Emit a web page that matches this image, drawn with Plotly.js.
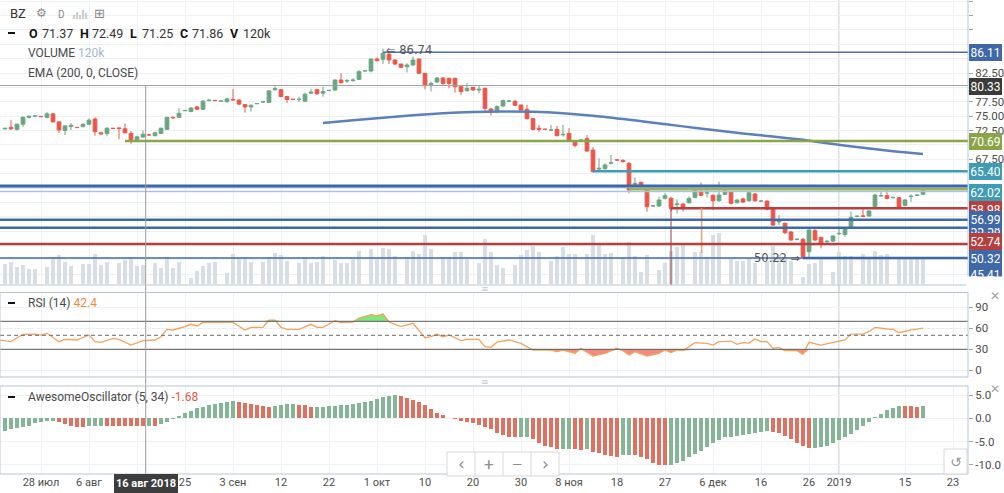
<!DOCTYPE html>
<html><head><meta charset="utf-8">
<script src="https://cdn.plot.ly/plotly-3.0.1.min.js"></script>
<style>html,body{margin:0;padding:0;background:#fff;}#chart{width:1004px;height:493px;}</style>
</head><body><div id="chart"></div>
<script>
// ---------------- data ----------------
const tickIdx  = [6,14,22,30,38,46,54,62,70,78,86,94,102,110,118,126,134,139,150,158];
const tickText = ['28 июл','6 авг','16 авг','25','3 сен','12','22','1 окт','10','20','30','8 ноя','18','27','6 дек','16','26','2019','15','23'];

const openP = [
72.8,73.05,72.7,73.6,74.8,75.0,74.95,74.8,75.4,74.0,
72.5,73.2,73.05,73.2,73.6,74.5,72.1,72.0,72.9,72.95,
72.8,72.0,70.95,71.37,71.75,71.6,72.0,72.7,74.8,74.8,
75.95,75.8,76.6,76.2,77.7,77.75,77.6,77.5,77.9,77.8,
77.0,76.6,77.15,77.45,77.4,79.6,79.6,78.4,77.95,77.9,
77.6,79.0,79.6,79.0,79.45,79.55,81.29,81.1,81.2,81.4,
82.85,82.85,84.94,84.9,85.8,84.77,84.07,83.6,83.9,84.94,
82.45,80.5,80.94,81.64,81.58,81.58,80.13,79.43,80.0,79.55,
79.84,76.24,75.78,76.77,77.6,77.58,76.94,76.18,74.56,72.9,
72.75,72.55,72.7,71.75,72.0,70.56,70.8,71.08,69.1,65.8,
65.9,66.8,67.4,67.3,66.79,62.85,63.48,62.27,59.35,59.37,
60.7,60.7,59.6,59.71,59.94,60.87,61.8,61.6,61.22,60.29,
61.4,61.8,59.94,60.6,60.29,61.45,60.2,60.23,58.96,56.6,
56.35,54.84,53.55,53.56,51.42,55.07,53.91,53.15,53.27,54.55,
54.43,55.77,57.55,57.65,57.62,59.25,61.1,61.16,60.8,60.81,
59.48,61.0,61.2,61.4];
const highP = [
73.0,74.3,73.7,75.0,75.1,75.2,75.0,75.7,75.5,74.1,
73.4,73.8,73.1,73.7,74.6,74.8,72.3,73.1,72.95,73.0,
73.7,72.4,71.6,72.49,71.8,72.3,73.0,74.9,74.9,76.4,
76.1,76.6,76.8,77.8,78.0,77.8,77.7,78.2,79.7,77.9,
77.1,77.0,77.3,77.7,79.5,80.2,79.7,78.5,78.0,78.4,
79.1,79.7,79.8,80.1,79.55,81.4,82.45,81.5,81.6,83.0,
83.0,85.0,85.2,86.74,85.9,84.9,84.1,84.2,85.35,85.0,
82.5,81.0,81.8,81.8,81.7,81.7,80.2,80.7,80.1,80.25,
80.0,76.4,76.9,77.9,77.8,77.8,77.0,76.94,74.6,73.46,
72.8,73.46,73.3,73.46,72.9,70.8,71.0,71.7,69.6,67.66,
66.8,68.24,67.5,67.5,67.0,64.35,63.6,62.4,59.5,60.99,
61.6,61.0,60.5,59.9,61.0,62.73,63.43,63.02,61.4,63.6,
62.2,62.0,60.6,60.8,62.0,61.6,60.4,60.3,59.0,57.8,
56.5,55.0,53.8,53.8,55.3,55.4,54.0,53.4,54.3,55.5,
55.6,58.38,57.7,58.8,58.6,61.5,61.98,62.15,61.0,60.9,
60.6,61.4,61.4,62.1];
const lowP = [
72.6,72.6,72.5,73.1,74.6,74.8,74.85,74.6,73.9,72.1,
71.7,72.6,72.95,73.0,73.4,71.6,71.8,71.5,72.85,71.0,
72.0,70.2,70.7,71.25,71.65,71.5,71.9,72.6,74.5,74.7,
75.9,75.7,76.1,76.1,77.6,77.6,77.55,77.4,77.7,77.0,
75.6,75.8,77.1,77.3,77.3,79.4,78.3,77.3,77.85,77.5,
77.5,78.9,78.7,78.4,79.4,79.4,80.7,80.8,81.0,81.3,
82.8,82.6,84.5,84.1,84.07,83.9,83.4,82.6,83.8,82.3,
79.67,79.3,80.8,80.2,79.84,79.1,78.7,79.3,79.4,78.97,
75.78,75.1,75.5,76.6,77.5,76.8,75.9,74.4,72.5,72.3,
72.6,72.4,71.5,71.43,70.7,69.6,70.7,68.8,65.2,65.34,
65.6,66.6,67.2,66.9,61.57,62.7,62.9,58.38,59.2,59.2,
60.5,58.5,58.09,58.38,59.8,60.7,61.1,60.87,58.67,60.1,
61.3,59.6,59.8,59.9,60.1,60.1,60.1,58.6,55.9,56.06,
54.5,53.3,53.4,50.22,50.5,53.3,52.0,53.0,53.1,54.3,
54.0,55.6,57.4,57.4,57.5,59.1,61.0,60.5,60.7,59.0,
59.3,60.1,61.1,61.3];
const closeP = [
72.9,72.8,73.6,74.8,75.0,75.05,74.9,75.4,74.0,72.6,
73.3,73.4,73.0,73.6,74.3,72.3,71.9,72.9,72.85,72.85,
72.1,70.9,71.4,71.86,71.7,72.1,72.9,74.8,74.7,75.5,
76.0,76.4,76.2,77.6,77.8,77.7,77.65,78.0,77.8,77.1,
76.6,76.9,77.2,77.5,79.4,79.8,78.4,77.9,77.9,77.95,
78.8,79.2,78.9,79.3,79.5,81.29,80.83,81.2,81.3,82.74,
82.9,84.94,84.65,85.93,84.77,84.07,83.5,83.9,84.77,82.45,
80.42,80.7,81.64,80.7,80.7,80.13,79.26,79.84,79.55,79.7,
76.36,75.78,76.65,77.7,77.65,76.88,76.07,74.56,72.7,72.7,
72.7,72.6,71.6,71.85,70.85,69.92,70.85,68.93,65.34,65.95,
66.5,66.9,67.35,67.1,62.15,63.31,63.02,59.25,59.4,60.41,
61.16,58.96,59.75,59.13,60.7,62.03,61.22,61.7,60.29,61.28,
61.98,59.83,60.41,60.06,61.68,60.29,60.25,58.79,56.06,56.7,
54.72,53.45,53.6,50.55,55.19,53.45,52.87,53.25,54.15,54.6,
55.42,57.39,57.62,57.55,58.5,61.28,61.2,60.7,60.87,59.13,
60.41,61.1,61.3,62.02];
const volumeK = [
126,140,109,120,96,96,3,105,172,183,
140,113,3,126,126,189,120,140,3,130,
151,168,113,120,3,130,103,168,99,140,
3,40,84,113,130,140,3,71,189,162,
168,140,3,140,172,197,183,147,3,134,
172,134,140,176,3,151,134,134,158,210,
3,221,158,227,221,176,3,168,210,189,
309,221,3,168,168,202,202,158,3,132,
282,202,120,101,3,120,183,214,241,202,
3,145,176,233,189,189,3,189,309,252,
189,195,3,164,265,176,76,183,3,88,
134,210,231,246,3,202,202,168,309,319,
3,156,147,143,162,130,3,145,241,181,
172,147,3,46,126,134,162,3,76,200,
176,176,3,189,172,208,183,187,3,156,
156,172,172,172];
const aoVal = [
-2.66,-2.37,-2.15,-1.79,-1.58,-1.08,-0.72,-0.55,-0.50,-0.72,
-1.22,-1.58,-1.79,-1.85,-1.70,-1.62,-1.58,-1.60,-1.61,-1.62,
-1.63,-1.64,-1.66,-1.68,-1.62,-1.64,-1.22,-0.72,-0.22,0.50,
1.08,1.65,2.22,2.50,2.80,3.08,3.30,3.50,3.65,3.50,
3.30,3.08,2.87,2.65,2.50,2.65,2.94,3.08,3.10,2.94,
2.80,2.50,2.52,2.54,2.56,2.65,2.80,2.94,3.08,3.22,
3.44,3.65,4.08,4.50,4.86,5.00,4.79,4.36,3.93,3.50,
2.94,1.94,1.08,0.72,0.07,-0.22,-0.50,-0.72,-0.93,-1.43,
-1.79,-2.37,-3.08,-3.59,-3.95,-3.97,-3.95,-3.93,-4.50,-5.24,
-5.88,-6.10,-6.60,-6.58,-6.56,-6.60,-6.80,-6.60,-7.17,-7.50,
-7.90,-8.00,-8.25,-7.95,-7.90,-7.92,-8.25,-8.80,-9.70,-10.00,
-10.04,-10.02,-9.70,-9.10,-8.40,-7.75,-6.96,-6.10,-5.24,-4.66,
-4.09,-3.95,-3.80,-3.59,-3.37,-3.08,-2.87,-2.66,-2.87,-3.23,
-3.73,-4.50,-5.38,-5.88,-6.31,-6.29,-6.10,-5.88,-5.24,-4.66,
-4.09,-3.37,-2.51,-1.58,-0.72,0.36,0.93,1.79,2.15,2.65,
2.63,2.61,2.37,2.65];
const emaPoints = [[53,73.8],[58,74.3],[63,74.7],[68,75.15],[73,75.5],[78,75.73],[83,75.82],[88,75.75],[93,75.5],[98,75.08],[103,74.5],[108,73.87],[113,73.22],[118,72.6],[123,72.0],[128,71.45],[133,70.88],[138,70.15],[143,69.5],[148,68.9],[153,68.4]];
const rsiPoints = [[-1,43.3],[1,40.9],[3,51.4],[5,51.8],[6,50.4],[7,52.8],[9,40.9],[10,44.2],[12,43.3],[14,50.4],[15,40.9],[16,40.0],[18,45.7],[19,44.2],[21,36.1],[23,42.4],[25,43.3],[26,48.0],[27,58.5],[28,57.6],[30,62.3],[31,65.7],[32,63.3],[33,68.5],[35,68.5],[38,68.5],[40,57.6],[41,61.4],[43,61.4],[44,71.8],[45,71.8],[46,61.4],[47,58.5],[49,58.5],[51,65.7],[52,61.4],[53,61.4],[55,70.9],[56,68.0],[58,69.0],[59,74.7],[61,79.5],[62,77.6],[63,80.4],[64,69.0],[66,62.3],[68,67.1],[70,46.6],[71,48.0],[72,51.4],[73,48.0],[74,50.4],[76,42.3],[77,44.2],[79,44.2],[80,33.7],[81,32.8],[82,40.2],[84,43.3],[86,38.5],[88,29.0],[91,29.0],[92,26.6],[93,29.0],[95,24.2],[96,31.4],[98,20.4],[100,24.2],[102,31.4],[103,28.0],[104,21.8],[105,26.6],[107,20.4],[109,24.2],[110,29.0],[111,25.2],[112,29.0],[113,28.0],[115,39.5],[117,38.5],[118,36.1],[119,40.9],[120,41.2],[121,41.8],[122,37.1],[123,39.5],[124,38.8],[125,44.7],[126,40.9],[127,40.9],[128,31.4],[129,32.8],[130,28.0],[132,28.0],[133,22.8],[134,40.0],[136,36.1],[138,40.0],[140,43.3],[141,51.8],[143,51.8],[144,55.2],[145,61.4],[147,59.0],[148,58.5],[149,53.7],[150,56.0],[151,57.6],[152,58.7],[153,60.4]];
const priceLabels = [45.41, 55.58, 58.98, 52.74, 50.32, 56.99, 62.02, 65.40, 70.69, 80.33, 86.11];
const shownPriceTicks = [67.5, 72.5, 75, 77.5, 82.5];
const crossBar = 23;
const crossDate = '16 авг 2018';
const highMark = 86.74, lowMark = 50.22;

// ---------------- style / layout ----------------
const W = 968, H = 474;
const GREEN = '#6ba583', RED = '#e8584b', AOG = '#84b597', AOR = '#e0705f';
const GRID = '#eef1f4', BORDER = '#b7c6d2';
const BLUE = '#3f68a8', TEAL = '#3e9cb4', OLIVE = '#8aa547', DRED = '#b5403f';
const XMIN = -0.833, XMAX = 160.5;
const PY = p => (H - p) / H, PX = p => p / W;
const FONT = 'Roboto, Arial, sans-serif';

const idx = closeP.map((_, i) => i);
const up = idx.map(i => closeP[i] >= openP[i]);
const bodyColor = up.map(u => u ? GREEN : RED);
const wick = {g: {x: [], y: []}, r: {x: [], y: []}};
idx.forEach(i => { const k = up[i] ? 'g' : 'r'; wick[k].x.push(i, i, null); wick[k].y.push(lowP[i], highP[i], null); });
const aoColor = aoVal.map((v, i) => (i === 0 || v >= aoVal[i - 1]) ? AOG : AOR);
const rX = rsiPoints.map(p => p[0]), rY = rsiPoints.map(p => p[1]);

const traces = [
  {type: 'bar', x: idx, y: volumeK, yaxis: 'y', xaxis: 'x', width: 0.8, marker: {color: '#d7dee5'}, hoverinfo: 'skip'},
  {type: 'scatter', mode: 'lines', x: wick.g.x, y: wick.g.y, yaxis: 'y4', line: {color: GREEN, width: 1}, hoverinfo: 'skip'},
  {type: 'scatter', mode: 'lines', x: wick.r.x, y: wick.r.y, yaxis: 'y4', line: {color: RED, width: 1}, hoverinfo: 'skip'},
  {type: 'bar', x: idx, base: idx.map(i => Math.min(openP[i], closeP[i])), y: idx.map(i => Math.abs(closeP[i] - openP[i])),
   yaxis: 'y4', width: 0.62, marker: {color: bodyColor, line: {color: bodyColor, width: 1}}, hoverinfo: 'skip'},
  {type: 'scatter', mode: 'lines', x: emaPoints.map(p => p[0]), y: emaPoints.map(p => p[1]), yaxis: 'y4',
   line: {color: '#5b80ba', width: 2.5, shape: 'spline', smoothing: 0.6}, hoverinfo: 'skip'},
  {type: 'scatter', mode: 'lines', x: rX, y: rX.map(() => 70), yaxis: 'y2', line: {width: 0, color: 'rgba(0,0,0,0)'}, hoverinfo: 'skip'},
  {type: 'scatter', mode: 'lines', x: rX, y: rY.map(v => Math.max(v, 70)), yaxis: 'y2', fill: 'tonexty', fillcolor: 'rgba(110,232,110,0.9)', line: {width: 0, color: 'rgba(0,0,0,0)'}, hoverinfo: 'skip'},
  {type: 'scatter', mode: 'lines', x: rX, y: rX.map(() => 30), yaxis: 'y2', line: {width: 0, color: 'rgba(0,0,0,0)'}, hoverinfo: 'skip'},
  {type: 'scatter', mode: 'lines', x: rX, y: rY.map(v => Math.min(v, 30)), yaxis: 'y2', fill: 'tonexty', fillcolor: 'rgba(245,125,115,0.9)', line: {width: 0, color: 'rgba(0,0,0,0)'}, hoverinfo: 'skip'},
  {type: 'scatter', mode: 'lines', x: rX, y: rY, yaxis: 'y2', line: {color: '#f2a35e', width: 1.3}, hoverinfo: 'skip'},
  {type: 'bar', x: idx, y: aoVal, yaxis: 'y3', width: 0.78, marker: {color: aoColor}, hoverinfo: 'skip'}
];

function hline(v, x0, color, width, ref) {
  return {type: 'line', xref: 'x', yref: ref || 'y4', x0: x0, x1: XMAX, y0: v, y1: v, line: {color, width}, layer: 'above'};
}
const shapes = [
  {type: 'line', xref: 'x', yref: 'paper', x0: tickIdx[17], x1: tickIdx[17], y0: 0, y1: 1, line: {color: '#b9b9b9', width: 1}, layer: 'below'},
  hline(86.11, 63, '#4a72b0', 1.5),
  hline(80.33, XMIN, '#a0a0a0', 1),
  hline(70.69, 20, OLIVE, 2.5),
  hline(65.40, 98, TEAL, 2.5),
  hline(62.85, XMIN, BLUE, 3),
  hline(62.55, XMIN, '#7f9fd0', 1.2),
  hline(62.3, 104, '#9db350', 2.5),
  hline(61.9, XMIN, '#a9c1e6', 1.5),
  hline(58.98, 111, DRED, 2.5),
  {type: 'line', xref: 'x', yref: 'y4', x0: 111, x1: 111, y0: 58.98, y1: 45.62, line: {color: '#9b3b3b', width: 1}, layer: 'above'},
  {type: 'line', xref: 'x', yref: 'y4', x0: 116.1, x1: 116.1, y0: 58.98, y1: 51.2, line: {color: '#e8a26a', width: 1.5}, layer: 'above'},
  hline(56.99, XMIN, BLUE, 2.5),
  hline(55.58, XMIN, BLUE, 2.5),
  hline(52.74, XMIN, DRED, 2.5),
  hline(50.32, XMIN, BLUE, 1.3),
  hline(50.32, 133, BLUE, 2.5),
  hline(70, XMIN, '#5c5c5c', 1, 'y2'),
  hline(30, XMIN, '#5c5c5c', 1, 'y2'),
  Object.assign(hline(50, XMIN, '#6a6a6a', 1, 'y2'), {line: {color: '#6a6a6a', width: 1, dash: '4px,3px'}}),
  {type: 'line', xref: 'x', yref: 'paper', x0: crossBar + 0.45, x1: crossBar + 0.45, y0: 0, y1: PY(86), line: {color: '#9a9a9a', width: 1}, layer: 'above'},
  {type: 'line', xref: 'paper', yref: 'paper', x0: 0, x1: 1, y0: PY(285), y1: PY(285), line: {color: BORDER, width: 1}},
  {type: 'line', xref: 'paper', yref: 'paper', x0: 1, x1: 1, y0: PY(285), y1: 1, line: {color: BORDER, width: 1}},
  {type: 'rect', xref: 'paper', yref: 'paper', x0: 0, x1: 1, y0: PY(377), y1: PY(292.5), line: {color: BORDER, width: 1}},
  {type: 'rect', xref: 'paper', yref: 'paper', x0: 0, x1: 1, y0: PY(474), y1: PY(386), line: {color: BORDER, width: 1}},
  {type: 'line', xref: 'paper', yref: 'paper', x0: PX(8), x1: PX(15), y0: PY(33), y1: PY(33), line: {color: '#111', width: 2}},
  {type: 'line', xref: 'paper', yref: 'paper', x0: PX(8), x1: PX(15), y0: PY(303), y1: PY(303), line: {color: '#111', width: 2}},
  {type: 'line', xref: 'paper', yref: 'paper', x0: PX(8), x1: PX(15), y0: PY(397), y1: PY(397), line: {color: '#111', width: 2}},
  ...[[74,15],[77,12],[80,15],[83,10],[86,13]].map(b => ({type: 'line', xref: 'paper', yref: 'paper', x0: PX(b[0]), x1: PX(b[0]), y0: PY(19), y1: PY(b[1]), line: {color: '#9a9a9a', width: 1}})),
  {type: 'rect', xref: 'paper', yref: 'paper', x0: PX(447), x1: PX(559), y0: PY(476), y1: PY(452), fillcolor: 'rgba(255,255,255,0.92)', line: {color: '#d8d8d8', width: 1}, layer: 'above'},
  ...[475, 503, 531].map(x => ({type: 'line', xref: 'paper', yref: 'paper', x0: PX(x), x1: PX(x), y0: PY(476), y1: PY(452), line: {color: '#d8d8d8', width: 1}})),
  {type: 'rect', xref: 'paper', yref: 'paper', x0: PX(944), x1: PX(967), y0: PY(474), y1: PY(449), fillcolor: 'rgba(255,255,255,0.92)', line: {color: '#d8d8d8', width: 1}, layer: 'above'}
];

function ann(x, y, text, o) {
  return Object.assign({xref: 'paper', yref: 'paper', x: PX(x), y: PY(y), text, showarrow: false, xanchor: 'left', yanchor: 'middle', font: {family: FONT, size: 12, color: '#4a4a4a'}}, o || {});
}
const boxColors = {45.41: BLUE, 55.58: BLUE, 58.98: DRED, 52.74: DRED, 50.32: BLUE, 56.99: BLUE, 62.02: TEAL, 65.40: TEAL, 70.69: OLIVE, 80.33: '#3b3b3b', 86.11: BLUE};
const boxRow = {45.41: 274, 55.58: 229, 58.98: 209, 52.74: 241, 50.32: 258, 56.99: 219.5, 62.02: 192, 65.40: 171.5, 70.69: 141, 80.33: 86, 86.11: 53};
const annotations = [];
priceLabels.forEach((v, k) => {
  annotations.push({xref: 'paper', yref: 'paper', x: PX(985.5), y: PY(boxRow[v]), text: v.toFixed(2), showarrow: false, xanchor: 'center', yanchor: 'middle',
    bgcolor: boxColors[v], bordercolor: boxColors[v], borderwidth: 1, borderpad: 1, width: 29, height: 13, font: {family: FONT, size: 12, color: '#fff'}});
  if (k === 0) annotations.push({xref: 'paper', yref: 'paper', x: PX(985.5), y: PY(284), text: ' ', showarrow: false, xanchor: 'center', yanchor: 'middle', bgcolor: '#fff', width: 36, height: 12});
});
const ohlcParts = [['O', openP[crossBar].toFixed(2), 27, 40], ['H', highP[crossBar].toFixed(2), 78, 90], ['L', lowP[crossBar].toFixed(2), 128, 140],
  ['C', closeP[crossBar].toFixed(2), 178, 190], ['V', volumeK[crossBar] + 'k', 228, 241]];
ohlcParts.forEach(p => {
  annotations.push(ann(p[2], 33, '<b>' + p[0] + '</b>', {font: {family: FONT, size: 12.5, color: '#111'}}));
  annotations.push(ann(p[3], 33, p[1], {font: {family: FONT, size: 12.5, color: '#333'}}));
});
annotations.push(
  ann(8, 14, 'BZ', {font: {family: FONT, size: 13, color: '#333'}}),
  ann(34, 13, '⚙', {font: {family: 'DejaVu Sans', size: 12, color: '#8a8a8a'}}),
  ann(56, 15, 'D', {font: {family: FONT, size: 10, color: '#8a8a8a'}}),
  ann(92, 14, '⊞', {font: {family: 'DejaVu Sans', size: 13, color: '#8a8a8a'}}),
  ann(26, 53, `VOLUME <span style="color:#a3b7cc">${volumeK[crossBar]}k</span>`),
  ann(26, 73, 'EMA (200, 0, CLOSE)'),
  ann(26, 303, `RSI (14) <span style="color:#ee8a3a">${rY[rX.indexOf(crossBar)].toFixed(1)}</span>`),
  ann(26, 397, `AwesomeOscillator (5, 34) <span style="color:#e05a48">${aoVal[crossBar].toFixed(2)}</span>`),
  {xref: 'x', yref: 'y4', x: 63.2, y: 86.45, text: '⇐ ' + highMark.toFixed(2), showarrow: false, xanchor: 'left', yanchor: 'middle', font: {family: 'DejaVu Sans', size: 11.5, color: '#555'}},
  {xref: 'x', yref: 'y4', x: 133.0, y: 50.32, text: lowMark.toFixed(2) + ' ⇒', showarrow: false, xanchor: 'right', yanchor: 'middle', font: {family: 'DejaVu Sans', size: 11.5, color: '#555'}},
  {xref: 'x', yref: 'paper', x: crossBar + 0.45, y: PY(483.5), text: '<b>' + crossDate + '</b>', showarrow: false, xanchor: 'center', yanchor: 'middle',
   bgcolor: '#3d3d3d', bordercolor: '#3d3d3d', borderwidth: 1, borderpad: 1, width: 60, height: 15, font: {family: FONT, size: 11, color: '#fff'}},
  ann(485, 288.5, '≡', {xanchor: 'center', font: {family: 'DejaVu Sans', size: 9, color: '#c3ccd4'}}),
  ann(485, 381.5, '≡', {xanchor: 'center', font: {family: 'DejaVu Sans', size: 9, color: '#c3ccd4'}}),
  ann(995, 296, '✕', {xanchor: 'center', font: {family: 'DejaVu Sans', size: 12, color: '#a5a5a5'}}),
  ann(995, 389, '✕', {xanchor: 'center', font: {family: 'DejaVu Sans', size: 12, color: '#a5a5a5'}}),
  ann(461, 464, '‹', {xanchor: 'center', font: {family: 'DejaVu Sans', size: 17, color: '#8f8f8f'}}),
  ann(489, 464, '+', {xanchor: 'center', font: {family: FONT, size: 17, color: '#8f8f8f'}}),
  ann(517, 464, '—', {xanchor: 'center', font: {family: FONT, size: 13, color: '#8f8f8f'}}),
  ann(545, 464, '›', {xanchor: 'center', font: {family: 'DejaVu Sans', size: 17, color: '#8f8f8f'}}),
  ann(955.5, 461.5, '↺', {xanchor: 'center', font: {family: 'DejaVu Sans', size: 14, color: '#9a9a9a'}})
);

const priceTickVals = [];
for (let v = 45; v <= 95; v += 2.5) priceTickVals.push(v);
const priceTickText = priceTickVals.map(v => shownPriceTicks.includes(v) ? v.toFixed(2) : '');
const xTickText = tickIdx.map((t, k) => t === crossBar - 1 ? '' : tickText[k]);

const axY = {fixedrange: true, zeroline: false, showline: false, side: 'right', anchor: 'x', ticks: 'outside', ticklen: 4, tickcolor: '#9aa4ac',
  showgrid: true, gridcolor: GRID, tickfont: {family: FONT, size: 11.5, color: '#4d4d4d'}};
const layout = {
  width: 1004, height: 493, margin: {l: 0, r: 36, t: 0, b: 19},
  paper_bgcolor: '#fff', plot_bgcolor: '#fff', showlegend: false, barmode: 'overlay', bargap: 0,
  font: {family: FONT, size: 11, color: '#4d4d4d'},
  xaxis: {domain: [0, 1], anchor: 'y3', range: [XMIN, XMAX], tickvals: tickIdx, ticktext: xTickText, showgrid: true, gridcolor: GRID,
    zeroline: false, showline: false, ticks: '', fixedrange: true, tickfont: {family: FONT, size: 11, color: '#4d4d4d'}},
  yaxis: {domain: [PY(285), 1], range: [-6, 1790], visible: false, fixedrange: true},
  yaxis4: Object.assign({}, axY, {overlaying: 'y', range: [45.62, 95.21], tickvals: priceTickVals, ticktext: priceTickText}),
  yaxis2: Object.assign({}, axY, {domain: [PY(377), PY(292.5)], range: [-9.57, 111.14], tickvals: [0, 30, 60, 90]}),
  yaxis3: Object.assign({}, axY, {domain: [0, PY(386)], range: [-11.98, 6.95], tickvals: [-10, -5, 0, 5], ticktext: ['-10.0', '-5.0', '0.0', '5.0']}),
  shapes, annotations
};
Plotly.newPlot('chart', traces, layout, {displayModeBar: false, staticPlot: true});
</script></body></html>
